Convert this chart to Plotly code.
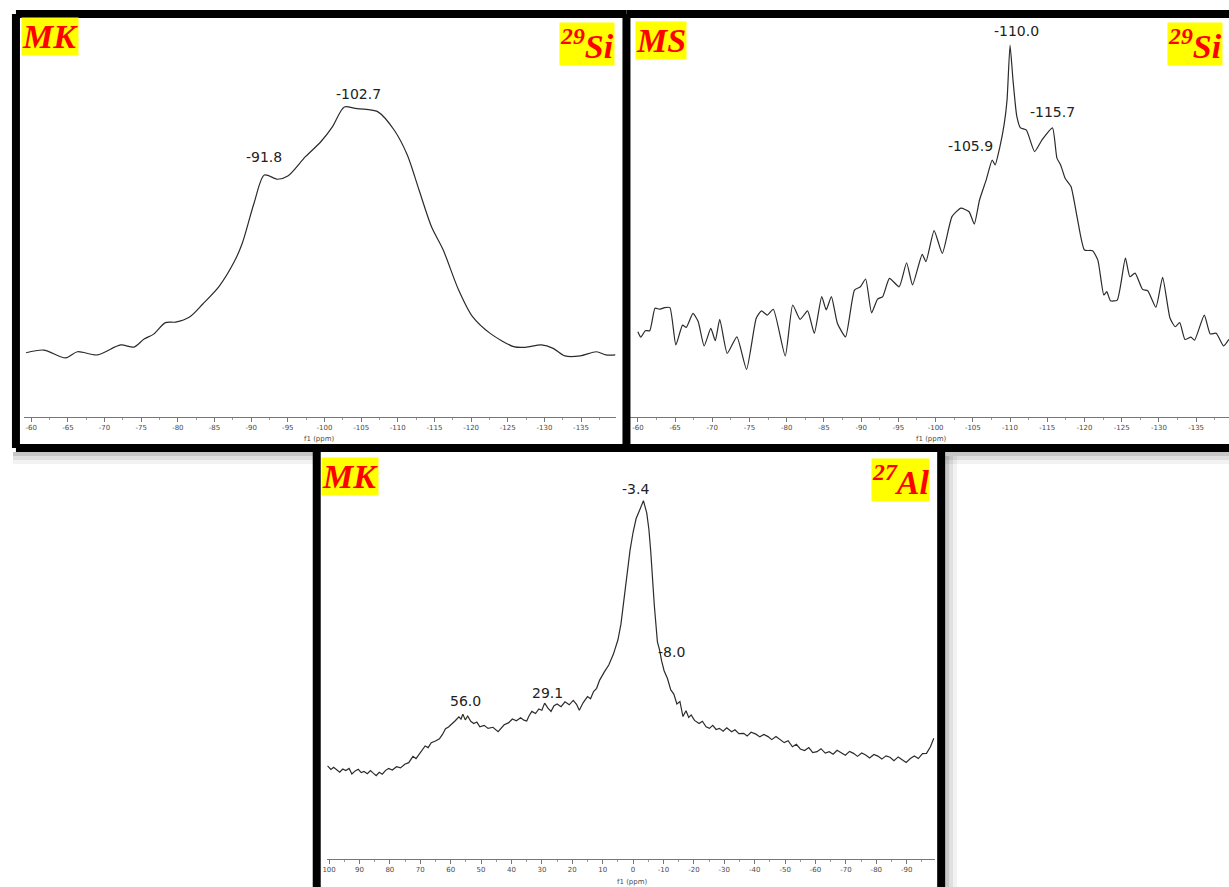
import plotly.graph_objects as go

W, H = 1229, 887

# ---- 29Si MAS NMR, metakaolin (MK) ----
si_mk_ppm = [-59.3, -61.7, -64.7, -66.3, -69.0, -72.2, -74.0, -75.4, -76.7, -78.3,
             -79.7, -81.6, -83.4, -85.6, -87.7, -88.8, -90.4, -91.8, -93.6, -95.0,
             -97.4, -99.5, -101.1, -102.7, -104.2, -105.7, -107.3, -109.5, -111.3, -112.9,
             -114.6, -116.2, -118.3, -120.2, -122.6, -125.8, -127.4, -129.6, -131.2, -132.8,
             -134.9, -137.1, -138.4, -139.7]
si_mk_int = [-0.3, 0.8, -2.4, 0.1, -1.2, 2.9, 2.0, 5.3, 7.3, 12.0,
             12.2, 14.3, 19.6, 26.7, 36.9, 44.5, 60.8, 72.2, 70.5, 71.8,
             79.7, 85.8, 92.0, 100.0, 99.4, 99.0, 98.0, 90.6, 80.4, 66.1,
             51.1, 41.6, 25.3, 14.4, 7.6, 2.2, 1.9, 2.9, 1.5, -1.6,
             -1.6, 0.1, -1.2, -1.2]
si_mk_peaks = [-91.8, -102.7]

# ---- 29Si MAS NMR, microsilica (MS) ----
si_ms_ppm = [-60.0, -60.4, -61.0, -61.6, -62.3, -62.9, -63.6, -64.3, -65.1, -66.0,
             -66.5, -67.4, -68.1, -68.9, -69.8, -70.4, -71.0, -72.0, -73.3, -74.6,
             -75.9, -76.6, -77.4, -78.2, -79.8, -80.8, -81.8, -82.8, -83.7, -84.7,
             -85.3, -86.0, -86.8, -87.9, -89.1, -89.9, -90.6, -91.4, -92.2, -92.9,
             -93.8, -95.1, -96.1, -96.9, -98.2, -98.7, -99.8, -100.9, -102.2, -103.4,
             -104.5, -105.2, -105.9, -106.8, -107.6, -108.0, -108.6, -109.2, -109.6, -110.0,
             -110.4, -110.9, -111.4, -112.2, -113.3, -114.3, -115.7, -116.3, -116.8, -117.4,
             -118.2, -119.0, -120.0, -121.1, -121.8, -122.6, -123.0, -123.5, -124.4, -125.5,
             -126.1, -126.8, -127.8, -128.5, -129.6, -130.5, -131.5, -132.2, -132.8, -133.5,
             -134.3, -134.8, -136.1, -136.9, -137.7, -138.7, -139.4]
si_ms_int = [11.8, 10.1, 12.1, 12.1, 19.0, 18.7, 19.2, 19.2, 7.7, 13.8,
             13.1, 17.4, 14.9, 7.4, 12.8, 9.0, 15.6, 5.1, 10.2, 0.2,
             15.9, 18.2, 16.9, 18.7, 4.3, 20.0, 15.6, 18.2, 11.3, 22.6,
             18.5, 22.6, 14.4, 10.2, 24.6, 25.6, 28.0, 17.6, 21.8, 22.6,
             28.2, 25.6, 33.0, 26.2, 35.6, 33.3, 42.9, 35.9, 47.2, 49.8,
             48.7, 44.9, 52.3, 58.5, 64.6, 63.1, 68.3, 75.4, 83.1, 100.0,
             89.2, 78.2, 74.5, 73.8, 67.2, 70.8, 74.5, 65.2, 63.1, 59.0,
             56.4, 47.2, 36.9, 36.7, 33.8, 23.1, 24.1, 21.3, 21.5, 34.4,
             28.7, 29.8, 24.8, 24.4, 19.3, 28.5, 15.9, 13.3, 14.6, 9.4,
             10.1, 9.2, 16.9, 11.1, 11.3, 7.4, 9.4]
si_ms_peaks = [-105.9, -110.0, -115.7]

# ---- 27Al MAS NMR, metakaolin (MK) ----
al_mk_ppm = [100.5, 99.4, 98.5, 97.4, 96.5, 95.5, 94.5, 93.4, 92.5, 91.4,
             90.4, 89.4, 88.5, 87.4, 86.4, 85.4, 84.5, 83.5, 82.5, 81.4,
             80.4, 79.2, 77.8, 76.5, 75.1, 73.8, 72.4, 71.4, 70.4, 69.4,
             68.4, 67.4, 66.4, 65.0, 63.7, 62.7, 61.7, 60.7, 59.7, 58.5,
             57.3, 56.6, 56.0, 55.2, 54.4, 53.4, 52.4, 51.4, 50.4, 49.0,
             47.7, 46.1, 44.4, 43.4, 42.4, 41.0, 39.7, 38.4, 37.0, 35.9,
             35.0, 34.2, 33.3, 32.1, 31.0, 30.0, 29.1, 28.0, 27.0, 26.0,
             25.0, 23.7, 22.4, 21.0, 19.7, 18.6, 17.7, 16.4, 15.0, 14.0,
             13.0, 12.0, 11.0, 9.5, 8.0, 6.5, 5.0, 4.0, 3.0, 2.0,
             1.0, 0.0, -1.0, -2.3, -3.4, -4.5, -5.2, -5.8, -6.4, -7.0,
             -8.0, -8.7, -9.4, -10.2, -11.3, -12.4, -13.4, -14.4, -15.4, -16.4,
             -17.4, -18.3, -19.1, -20.2, -21.7, -22.8, -24.0, -25.1, -26.2, -27.3,
             -28.4, -29.6, -30.8, -32.4, -33.5, -34.8, -36.4, -37.5, -38.8, -40.4,
             -41.7, -43.0, -44.4, -45.6, -47.0, -48.4, -49.7, -51.0, -52.4, -53.7,
             -55.0, -56.4, -57.8, -59.1, -60.5, -61.8, -63.2, -64.5, -65.8, -67.1,
             -68.5, -69.8, -71.2, -72.5, -73.8, -75.2, -76.5, -77.8, -79.2, -80.5,
             -81.8, -83.2, -84.5, -85.8, -87.2, -88.5, -89.8, -91.2, -92.5, -93.8,
             -95.2, -96.5, -97.8, -98.9]
al_mk_int = [3.3, 2.0, 2.8, 1.9, 1.0, 2.2, 1.6, 2.4, 0.4, 1.5,
             2.1, 0.9, 1.3, 0.5, 1.6, 0.6, -0.2, 1.0, 0.3, 1.7,
             2.4, 1.8, 3.0, 2.6, 3.9, 4.5, 6.8, 6.0, 7.6, 9.1,
             10.6, 10.0, 11.8, 12.4, 13.2, 14.8, 16.9, 17.5, 18.4, 19.8,
             21.2, 20.4, 22.2, 20.1, 21.5, 19.6, 18.8, 19.3, 17.6, 18.1,
             17.0, 17.4, 15.8, 16.9, 18.3, 19.0, 20.4, 19.8, 20.9, 20.0,
             19.7, 21.6, 23.2, 22.4, 24.1, 23.6, 26.2, 24.4, 23.2, 25.3,
             25.9, 24.9, 26.7, 25.6, 27.2, 25.8, 23.6, 26.4, 28.6, 27.8,
             30.4, 31.6, 34.6, 37.5, 40.1, 44.0, 49.2, 55.0, 63.8, 73.5,
             82.0, 88.5, 93.5, 97.0, 100.0, 95.5, 89.5, 81.5, 71.0, 61.5,
             48.5, 45.6, 41.5, 38.0, 35.2, 31.0, 29.5, 25.9, 26.8, 21.3,
             23.4, 21.0, 21.9, 19.9, 18.8, 19.6, 17.6, 17.0, 18.1, 16.6,
             17.0, 16.0, 17.2, 15.8, 16.5, 15.1, 15.2, 14.2, 15.6, 14.9,
             13.9, 14.8, 14.0, 12.9, 14.0, 12.8, 11.8, 12.5, 10.3, 11.2,
             9.5, 8.9, 10.0, 8.2, 8.5, 9.6, 8.0, 8.5, 7.6, 9.0,
             8.1, 7.2, 8.6, 7.9, 6.8, 8.0, 7.3, 6.2, 7.5, 6.9,
             5.8, 7.0, 6.5, 5.2, 6.6, 5.7, 4.6, 6.0, 6.9, 6.0,
             7.8, 7.9, 10.3, 13.4]
al_mk_peaks = [56.0, 29.1, -3.4, -8.0]

# ---- axis ticks ----
si_ticks = [-60, -65, -70, -75, -80, -85, -90, -95, -100, -105,
            -110, -115, -120, -125, -130, -135]
al_ticks = [100, 90, 80, 70, 60, 50, 40, 30, 20, 10, 0,
            -10, -20, -30, -40, -50, -60, -70, -80, -90]


def px(x):
    return x / W


def py(y):
    return 1 - y / H


LINE = dict(color="#2b2b2b", width=1.2)
TICKFONT = dict(family="DejaVu Sans", size=7, color="#4a4a4a")

fig = go.Figure()
fig.add_trace(go.Scatter(x=si_mk_ppm, y=si_mk_int, mode="lines",
                         line=dict(shape="spline", smoothing=0.8, **LINE),
                         xaxis="x", yaxis="y", showlegend=False))
fig.add_trace(go.Scatter(x=si_ms_ppm, y=si_ms_int, mode="lines",
                         line=dict(shape="spline", smoothing=0.5, **LINE),
                         xaxis="x2", yaxis="y2", showlegend=False))
fig.add_trace(go.Scatter(x=al_mk_ppm, y=al_mk_int, mode="lines",
                         line=LINE, xaxis="x3", yaxis="y3", showlegend=False))


def xaxis_style(domain, rng, ticks, anchor, minor_step):
    return dict(domain=domain, range=rng, anchor=anchor,
                tickmode="array", tickvals=ticks,
                ticktext=[str(t) for t in ticks],
                tickfont=TICKFONT, ticks="outside", ticklen=4,
                tickcolor="#777", tickwidth=1,
                minor=dict(dtick=minor_step, ticks="outside", ticklen=2,
                           tickcolor="#999", showgrid=False),
                showline=True, linecolor="#777", linewidth=1,
                showgrid=False, zeroline=False, fixedrange=True)


def yaxis_style(domain, rng, anchor):
    return dict(domain=domain, range=rng, anchor=anchor, visible=False,
                showgrid=False, zeroline=False, fixedrange=True)


fig.update_layout(
    width=W, height=H, autosize=False,
    margin=dict(l=0, r=0, t=0, b=0, pad=0),
    paper_bgcolor="white", plot_bgcolor="white",
    xaxis=xaxis_style([px(19), px(613)], [-59.0, -139.7], si_ticks, "y", 2.5),
    yaxis=yaxis_style([py(416.7), py(18)], [-26.4, 136.3], "x"),
    xaxis2=xaxis_style([px(628), 1.0], [-59.0, -139.42], si_ticks, "y2", 2.5),
    yaxis2=yaxis_style([py(416.7), py(18)], [-14.37, 108.3], "x2"),
    xaxis3=xaxis_style([px(323.4), px(933.5)], [100.65, -99.2], al_ticks, "y3", 5),
    yaxis3=yaxis_style([py(859), py(458)], [-30.62, 115.57], "x3"),
)

annotations = []
PEAKFONT = dict(family="DejaVu Sans", size=14, color="#222")


def peak_label(ppm_list, int_list, value, xref, yref, **kw):
    i = ppm_list.index(value)
    opts = dict(x=value, y=int_list[i], xref=xref, yref=yref,
                text=f"{value:.1f}", showarrow=False, font=PEAKFONT,
                xanchor="center", yanchor="bottom")
    opts.update(kw)
    annotations.append(opts)


peak_label(si_mk_ppm, si_mk_int, -91.8, "x", "y", yshift=8)
peak_label(si_mk_ppm, si_mk_int, -102.7, "x", "y", xshift=14, yshift=3)
peak_label(si_ms_ppm, si_ms_int, -110.0, "x2", "y2", xshift=6, yshift=4)
peak_label(si_ms_ppm, si_ms_int, -115.7, "x2", "y2", yshift=6)
peak_label(si_ms_ppm, si_ms_int, -105.9, "x2", "y2", xanchor="right",
           xshift=15, yshift=44)
peak_label(al_mk_ppm, al_mk_int, 56.0, "x3", "y3", xshift=3, yshift=3)
peak_label(al_mk_ppm, al_mk_int, 29.1, "x3", "y3", xshift=3, yshift=0)
peak_label(al_mk_ppm, al_mk_int, -3.4, "x3", "y3", xshift=-8, yshift=2)
peak_label(al_mk_ppm, al_mk_int, -8.0, "x3", "y3", xanchor="left",
           yanchor="middle", xshift=-1, yshift=-10)

# axis titles
for xc, yc in [(316, 438.5), (930, 438.5), (630, 881.5)]:
    annotations.append(dict(x=px(xc), y=py(yc), xref="paper", yref="paper",
                            text="f1 (ppm)", showarrow=False,
                            font=dict(family="DejaVu Sans", size=7, color="#4a4a4a"),
                            xanchor="center", yanchor="middle"))

# sample / nucleus tags
TAGFONT = dict(family="Liberation Serif", size=34, color="#ff0000")
tags = [
    ("<b><i>MK</i></b>", 16, 17),
    ("<b><i><sup>29</sup>Si</i></b>", 556, 22),
    ("<b><i>MS</i></b>", 633, 21),
    ("<b><i><sup>29</sup>Si</i></b>", 1167, 22),
    ("<b><i>MK</i></b>", 317, 457),
    ("<b><i><sup>27</sup>Al</i></b>", 870, 458),
]
for text, x0, y0 in tags:
    annotations.append(dict(x=px(x0), y=py(y0), xref="paper", yref="paper",
                            text=text, showarrow=False, font=TAGFONT,
                            bgcolor="#ffff00", borderpad=0,
                            xanchor="left", yanchor="top"))

fig.update_layout(annotations=annotations)

# panel frames and soft drop shadows
shapes = []
for k, alpha in enumerate([0.22, 0.12, 0.05]):
    off = 4 * k
    shapes.append(dict(type="rect", xref="paper", yref="paper", layer="below",
                       x0=px(8), x1=px(310), y0=py(452 + off), y1=py(456 + off),
                       line=dict(width=0), fillcolor=f"rgba(0,0,0,{alpha})"))
    shapes.append(dict(type="rect", xref="paper", yref="paper", layer="below",
                       x0=px(944), x1=px(1229), y0=py(452 + off), y1=py(456 + off),
                       line=dict(width=0), fillcolor=f"rgba(0,0,0,{alpha})"))
    shapes.append(dict(type="rect", xref="paper", yref="paper", layer="below",
                       x0=px(944 + off), x1=px(948 + off), y0=py(887), y1=py(456),
                       line=dict(width=0), fillcolor=f"rgba(0,0,0,{alpha})"))

FRAME = dict(color="black", width=8)
frames = [
    # panel 1
    (11, 14, 11, 448), (11, 14, 624, 14), (11, 448, 624, 448),
    # panel 2
    (624, 14, 624, 448), (624, 14, 1240, 14), (624, 448, 1240, 448),
    # panel 3
    (313, 448, 313, 900), (940, 448, 940, 900), (313, 448, 940, 448),
]
for x0, y0, x1, y1 in frames:
    shapes.append(dict(type="line", xref="paper", yref="paper",
                       x0=px(x0), y0=py(y0), x1=px(x1), y1=py(y1), line=FRAME))
fig.update_layout(shapes=shapes)

fig.write_html("out.html")
